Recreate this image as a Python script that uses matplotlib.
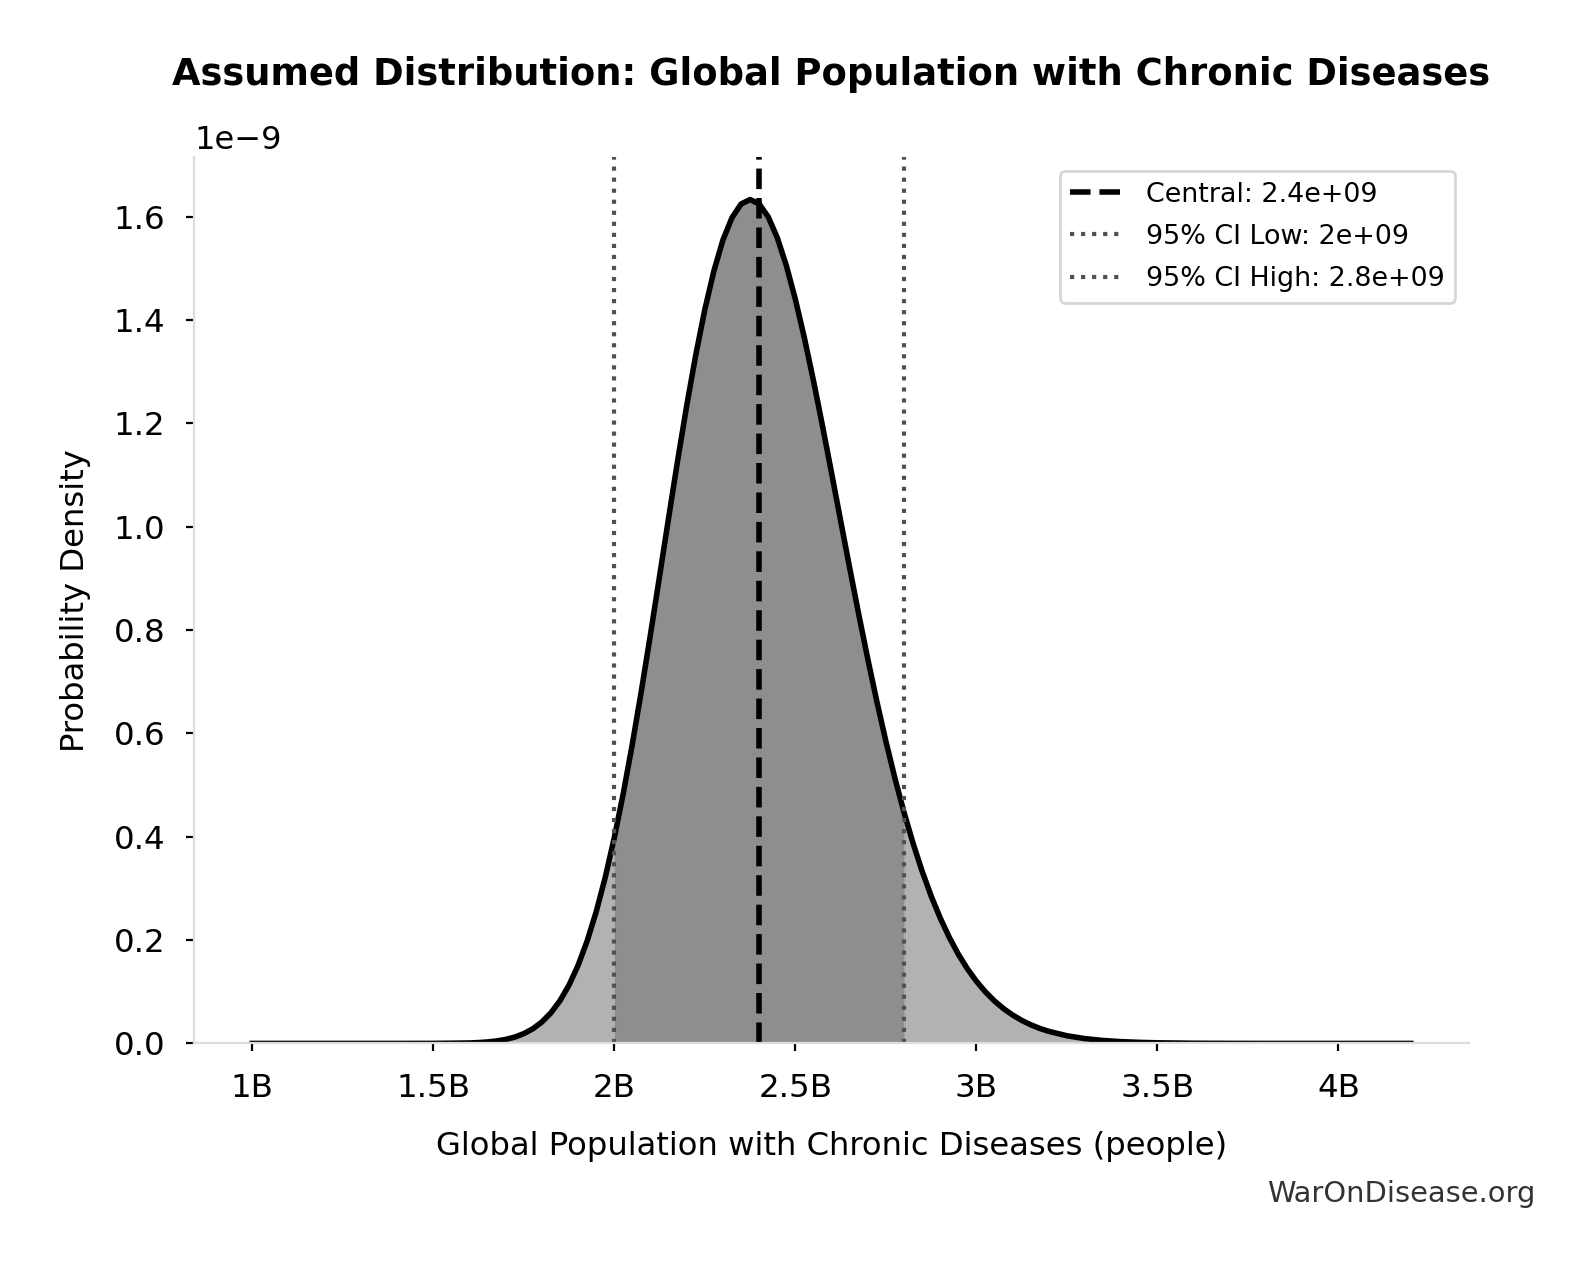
import numpy as np
import matplotlib
matplotlib.use("Agg")
import matplotlib.pyplot as plt
from matplotlib.ticker import FuncFormatter

# density curve (x in billions, density in 1e-9)
x_bn = [1.0, 1.2, 1.4, 1.5] + list(np.round(np.arange(1.6, 3.2001, 0.025), 3)) + \
       [3.25, 3.3, 3.35, 3.4, 3.45, 3.5, 3.6, 3.7, 3.8, 4.0, 4.2]
dens = [0.0, 0.0, 0.0, 0.0001,
        0.0009, 0.0017, 0.0029, 0.0048, 0.0078, 0.0123, 0.0190, 0.0284,
        0.0416, 0.0593, 0.0828, 0.1131, 0.1513, 0.1984, 0.2550, 0.3216,
        0.3984, 0.4848, 0.5804, 0.6835, 0.7923, 0.9044, 1.0175, 1.1285,
        1.2346, 1.3328, 1.4205, 1.4952, 1.5551, 1.5984, 1.6247, 1.6334,
        1.6249, 1.6000, 1.5598, 1.5060, 1.4405, 1.3655, 1.2831, 1.1953,
        1.1044, 1.0122, 0.9206, 0.8309, 0.7445, 0.6623, 0.5851, 0.5134,
        0.4476, 0.3877, 0.3338, 0.2856, 0.2430, 0.2056, 0.1729, 0.1447,
        0.1205, 0.0998, 0.0822, 0.0674, 0.0551, 0.0447, 0.0362, 0.0291,
        0.0234,
        0.0149, 0.0093, 0.0057, 0.0035, 0.0021, 0.0012, 0.0004, 0.0001,
        0.0, 0.0, 0.0]

central = 2.4e9
ci_low = 2.0e9
ci_high = 2.8e9
xticks_bn = [1, 1.5, 2, 2.5, 3, 3.5, 4]

x = np.array(x_bn) * 1e9
y = np.array(dens) * 1e-9

fig = plt.figure(figsize=(7.965, 6.33), dpi=200)
ax = fig.add_axes([0.122, 0.1758, 0.8, 0.6999])

ax.fill_between(x, 0, y, color="#b2b2b2", linewidth=0)
mask = (x >= ci_low) & (x <= ci_high)
ax.fill_between(x, 0, y, where=mask, color="#8e8e8e", linewidth=0)
ax.plot(x, y, color="black", lw=2)

ax.axvline(central, color="black", ls="--", lw=2, label=f"Central: {central:.2g}")
ax.axvline(ci_low, color="#505050", ls=":", lw=1.5, label=f"95% CI Low: {ci_low:.2g}")
ax.axvline(ci_high, color="#505050", ls=":", lw=1.5, label=f"95% CI High: {ci_high:.2g}")

ax.set_ylim(bottom=0)
ax.set_xticks([t * 1e9 for t in xticks_bn])
ax.xaxis.set_major_formatter(FuncFormatter(lambda v, p: f"{v / 1e9:g}B"))
ax.tick_params(labelsize=11.7, length=3, pad=7.5)
ax.yaxis.get_offset_text().set_fontsize(11.5)

for s in ["top", "right"]:
    ax.spines[s].set_visible(False)
for s in ["left", "bottom"]:
    ax.spines[s].set_color("#dddddd")

ax.set_title("Assumed Distribution: Global Population with Chronic Diseases",
             fontsize=13.3, fontweight="bold", pad=26)
ax.set_xlabel("Global Population with Chronic Diseases (people)", fontsize=11.6, labelpad=10)
ax.set_ylabel("Probability Density", fontsize=11.6, labelpad=8)
ax.legend(loc="upper right", fontsize=9.7, labelspacing=0.6)

fig.text(0.9636, 0.0508, "WarOnDisease.org", ha="right", va="baseline",
         fontsize=10.4, color="#333333")

fig.savefig("out.png", dpi=200)
